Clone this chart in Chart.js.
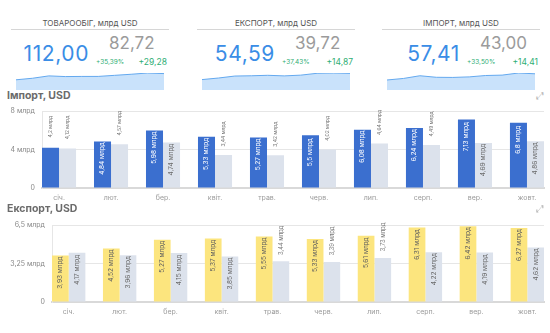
<!DOCTYPE html>
<html>
<head>
<meta charset="utf-8">
<script src="https://cdn.jsdelivr.net/npm/chart.js@4.4.1/dist/chart.umd.min.js"></script>
<style>
  body { margin: 0; width: 550px; height: 333px; background: #fff; position: relative; overflow: hidden;
         font-family: Inter, "Noto Sans", sans-serif; }
  .abs { position: absolute; white-space: nowrap; line-height: 1; }
  .ktitle { font-size: 8px; color: #555; width: 180px; text-align: center; }
  .kline { height: 1px; background: #d6d6d6; }
  .kbig { font-size: 21px; letter-spacing: 0.6px; color: #3a8de6; width: 89px; text-align: right; }
  .kprev { font-size: 17px; color: #9b9b9b; }
  .kpct { font-size: 6.5px; color: #2fae74; }
  .kdelta { font-size: 8.5px; color: #2fae74; width: 80px; text-align: right; }
  .sec { font-size: 10.5px; font-weight: 700; color: #6b6b6b; }
  .icon { font-size: 10px; color: #b5b5b5; font-family: "DejaVu Sans", sans-serif; }
  canvas { position: absolute; }
</style>
</head>
<body>
<div class="abs sec" style="left:7px;top:91px">Імпорт, USD</div>
<div class="abs icon" style="left:536px;top:91px">⤢</div>
<canvas id="importChart" width="550" height="108" style="left:0;top:100px"></canvas>
<div class="abs sec" style="left:7px;top:204px">Експорт, USD</div>
<div class="abs icon" style="left:536px;top:204px">⤢</div>
<canvas id="exportChart" width="550" height="108" style="left:0;top:214px"></canvas>

<script>
// months (Jan - Oct)
const months = ["січ.", "лют.", "бер.", "квіт.", "трав.", "черв.", "лип.", "серп.", "вер.", "жовт."];

// import, bln USD
const import2021 = [4.2, 4.84, 5.98, 5.33, 5.27, 5.5, 6.08, 6.24, 7.13, 6.8];
const import2020 = [4.12, 4.57, 4.74, 3.44, 3.42, 4.02, 4.64, 4.49, 4.69, 4.86];

// export, bln USD
const export2021 = [3.93, 4.52, 5.27, 5.37, 5.55, 5.33, 5.61, 6.31, 6.42, 6.27];
const export2020 = [4.17, 3.96, 4.15, 3.85, 3.44, 3.39, 3.73, 4.22, 4.19, 4.62];

const importTicks = [0, 4, 8];
const exportTicks = [0, 3.25, 6.5];

// KPI cards
const kpiTitles = ["ТОВАРООБІГ, млрд USD", "ЕКСПОРТ, млрд USD", "ІМПОРТ, млрд USD"];
const kpiCurrent = ["112,00", "54,59", "57,41"];
const kpiPrevious = ["82,72", "39,72", "43,00"];
const kpiPercent = ["+35,39%", "+37,43%", "+33,50%"];
const kpiDelta = ["+29,28", "+14,87", "+14,41"];

const turnover2021 = import2021.map((v, i) => v + export2021[i]);
const sparkData = [turnover2021, export2021, import2021];

Chart.defaults.font.family = "Inter, 'Noto Sans', sans-serif";
Chart.defaults.animation = false;

const panelLeft = [0, 186, 371];

panelLeft.forEach((L, i) => {
    const add = (cls, style, text) => {
        const d = document.createElement("div");
        d.className = "abs " + cls;
        d.style.cssText = style;
        if (text) d.textContent = text;
        document.body.appendChild(d);
        return d;
    };
    add("ktitle", `left:${L}px;top:18.5px`, kpiTitles[i]);
    add("kline", `left:${L + 11}px;top:29px;width:158px`);
    add("kbig", `left:${L}px;top:42.5px`, kpiCurrent[i]);
    add("kprev", `left:${L + 109}px;top:35px`, kpiPrevious[i]);
    add("kpct", `left:${L + 96}px;top:58.5px`, kpiPercent[i]);
    add("kdelta", `left:${L + 87}px;top:57.5px`, kpiDelta[i]);

    const c = document.createElement("canvas");
    c.width = 148;
    c.height = 18;
    c.style.left = (L + 16) + "px";
    c.style.top = "72px";
    document.body.appendChild(c);

    const data = sparkData[i];
    new Chart(c, {
        type: "line",
        data: {
            labels: months,
            datasets: [{
                data: data,
                borderColor: "#64a9ef",
                borderWidth: 1,
                backgroundColor: "#c9e2fb",
                fill: "origin",
                pointRadius: 0,
                tension: 0
            }]
        },
        options: {
            responsive: false,
            layout: { padding: { top: 1 } },
            plugins: { legend: { display: false }, tooltip: { enabled: false } },
            scales: {
                x: { display: false },
                y: { display: false, min: 0, max: Math.max(...data) }
            }
        }
    });
});

// bar value labels: inside the bar when it is tall enough, above it otherwise
const barLabels = {
    id: "barLabels",
    afterDatasetsDraw(chart, args, opts) {
        const ctx = chart.ctx;
        const max = chart.scales.y.max;
        chart.data.datasets.forEach((ds, di) => {
            const meta = chart.getDatasetMeta(di);
            meta.data.forEach((bar, j) => {
                const v = ds.data[j];
                const text = String(v).replace(".", ",") + " млрд";
                const inside = v / max >= 0.583;
                ctx.save();
                ctx.translate(bar.x, inside ? bar.y + 17 : bar.y - 21);
                ctx.rotate(-Math.PI / 2);
                ctx.textAlign = "center";
                ctx.textBaseline = "middle";
                ctx.font = (inside ? 6.5 : opts.aboveSize) + "px Inter, sans-serif";
                ctx.fillStyle = inside ? ds.labelColor : "#7a7a7a";
                ctx.fillText(text, 0, 0);
                ctx.restore();
            });
        });
    }
};

function makeBarChart(id, current, previous, color, labelColor, ticks, leftEdge, aboveSize) {
    const groupShare = 0.655;
    new Chart(document.getElementById(id), {
        type: "bar",
        data: {
            labels: months,
            datasets: [
                { data: current, backgroundColor: color, labelColor: labelColor },
                { data: previous, backgroundColor: "#dce2ec", labelColor: "#6a6a6a" }
            ]
        },
        plugins: [barLabels],
        options: {
            responsive: false,
            layout: { padding: { top: 2.8, right: 6 } },
            categoryPercentage: groupShare,
            barPercentage: 1,
            plugins: {
                legend: { display: false },
                tooltip: { enabled: false },
                barLabels: { aboveSize: aboveSize }
            },
            scales: {
                x: {
                    grid: { display: false, drawTicks: false },
                    border: { display: true, color: "#d9d9d9", width: 2 },
                    ticks: { color: "#9a9a9a", font: { size: 7 }, padding: 6, maxRotation: 0 },
                    afterFit: s => { s.height = 20; },
                    afterBuildTicks: s => {
                        // groups touch the plot edges
                        const edge = (1 - groupShare) / 2;
                        s._startValue = -0.5 + edge;
                        s._valueRange = s.getLabels().length - 2 * edge;
                    }
                },
                y: {
                    min: 0,
                    max: ticks[ticks.length - 1],
                    grid: { color: "#e6e6e6", drawTicks: false },
                    border: { display: true, color: "#e6e6e6" },
                    ticks: {
                        color: "#888",
                        font: { size: 7 },
                        padding: 7,
                        callback: v => v === 0 ? "0" : String(v).replace(".", ",") + " млрд"
                    },
                    afterBuildTicks: s => { s.ticks = ticks.map(v => ({ value: v })); },
                    afterFit: s => { s.width = leftEdge; }
                }
            }
        }
    });
}

makeBarChart("importChart", import2021, import2020, "#3b6fcf", "#ffffff", importTicks, 42, 5);
makeBarChart("exportChart", export2021, export2020, "#fce57e", "#5f5f5f", exportTicks, 52, 5.8);
</script>
</body>
</html>
